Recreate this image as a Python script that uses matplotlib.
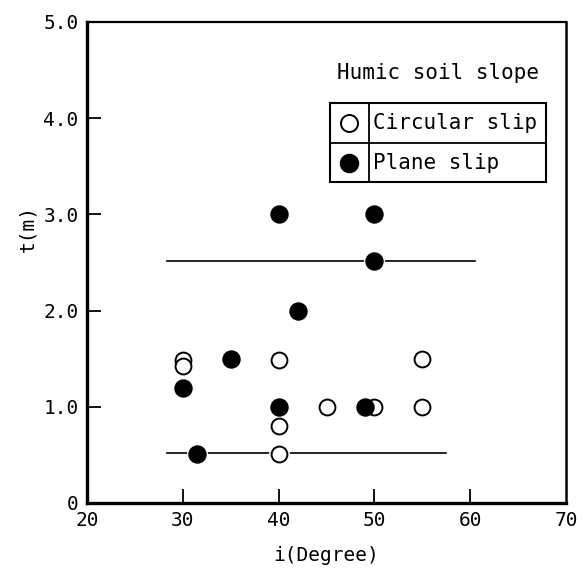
import numpy as np
import matplotlib.pyplot as plt
from matplotlib.patches import Rectangle
from matplotlib.lines import Line2D

# circular slip (open circles)
circ_i = [30, 30, 40, 55, 45, 50, 55, 40, 40]
circ_t = [1.49, 1.42, 1.49, 1.50, 1.00, 1.00, 1.00, 0.80, 0.51]

# plane slip (filled circles)
plane_i = [40, 50, 50, 42, 35, 30, 40, 49, 31.5]
plane_t = [3.0, 3.0, 2.52, 2.0, 1.5, 1.2, 1.0, 1.0, 0.51]

# the two horizontal reference lines
upper_i = [28.3, 60.5]
upper_t = [2.52, 2.52]
lower_i = [28.3, 57.5]
lower_t = [0.52, 0.52]

xticks = [20, 30, 40, 50, 60, 70]
yticks = [0, 1, 2, 3, 4, 5]
ytick_labels = ["0", "1.0", "2.0", "3.0", "4.0", "5.0"]

mono = "DejaVu Sans Mono"

fig = plt.figure(figsize=(5.82, 5.74), dpi=100)
ax = fig.add_axes([0.1495, 0.1237, 0.823, 0.838])

ax.plot(upper_i, upper_t, color="black", lw=1.2, zorder=1)
ax.plot(lower_i, lower_t, color="black", lw=1.2, zorder=1)

# white halo so the lines stop short of the markers
allx = circ_i + plane_i
ally = circ_t + plane_t
ax.scatter(allx, ally, s=230, color="white", zorder=2, linewidths=0)

ax.scatter(circ_i, circ_t, s=130, facecolors="white", edgecolors="black",
           linewidths=1.4, zorder=3)
ax.scatter(plane_i, plane_t, s=150, color="black", zorder=4)

ax.set_xlim(20, 70)
ax.set_ylim(0, 5)
ax.set_xticks(xticks)
ax.set_yticks(yticks)
ax.set_yticklabels(ytick_labels)

ax.spines["left"].set_linewidth(2.4)
ax.spines["bottom"].set_linewidth(2.4)
ax.spines["top"].set_linewidth(1.6)
ax.spines["right"].set_linewidth(1.8)

ax.tick_params(direction="in", length=10, width=1.3, labelsize=14, pad=6)
for lab in ax.get_xticklabels() + ax.get_yticklabels():
    lab.set_fontfamily(mono)

# no tick marks at the corners, only the labels
for t in [ax.xaxis.get_major_ticks()[0], ax.xaxis.get_major_ticks()[-1],
          ax.yaxis.get_major_ticks()[0], ax.yaxis.get_major_ticks()[-1]]:
    t.tick1line.set_visible(False)

ax.set_xlabel("i(Degree)", fontsize=14, family=mono, labelpad=11)
ax.set_ylabel("t(m)", fontsize=14, family=mono)
ax.yaxis.set_label_coords(-0.103, 0.57)

# legend drawn as a little table
ax.text(0.522, 0.894, "Humic soil slope", transform=ax.transAxes,
        fontsize=15, family=mono, va="center", ha="left")
x0, x1, xd = 0.507, 0.958, 0.589
y0, y1, ym = 0.667, 0.832, 0.748
ax.add_patch(Rectangle((x0, y0), x1 - x0, y1 - y0, transform=ax.transAxes,
                       fill=False, lw=1.5, edgecolor="black", zorder=5))
ax.add_line(Line2D([xd, xd], [y0, y1], transform=ax.transAxes, color="black", lw=1.3))
ax.add_line(Line2D([x0, x1], [ym, ym], transform=ax.transAxes, color="black", lw=1.3))
ax.scatter([(x0 + xd) / 2], [(ym + y1) / 2], s=150, facecolors="white",
           edgecolors="black", linewidths=1.4, transform=ax.transAxes, zorder=6)
ax.scatter([(x0 + xd) / 2], [(y0 + ym) / 2], s=170, color="black",
           transform=ax.transAxes, zorder=6)
ax.text(xd + 0.008, (ym + y1) / 2, "Circular slip", transform=ax.transAxes,
        fontsize=15, family=mono, va="center", ha="left")
ax.text(xd + 0.008, (y0 + ym) / 2, "Plane slip", transform=ax.transAxes,
        fontsize=15, family=mono, va="center", ha="left")

fig.savefig("out.png", dpi=100)
